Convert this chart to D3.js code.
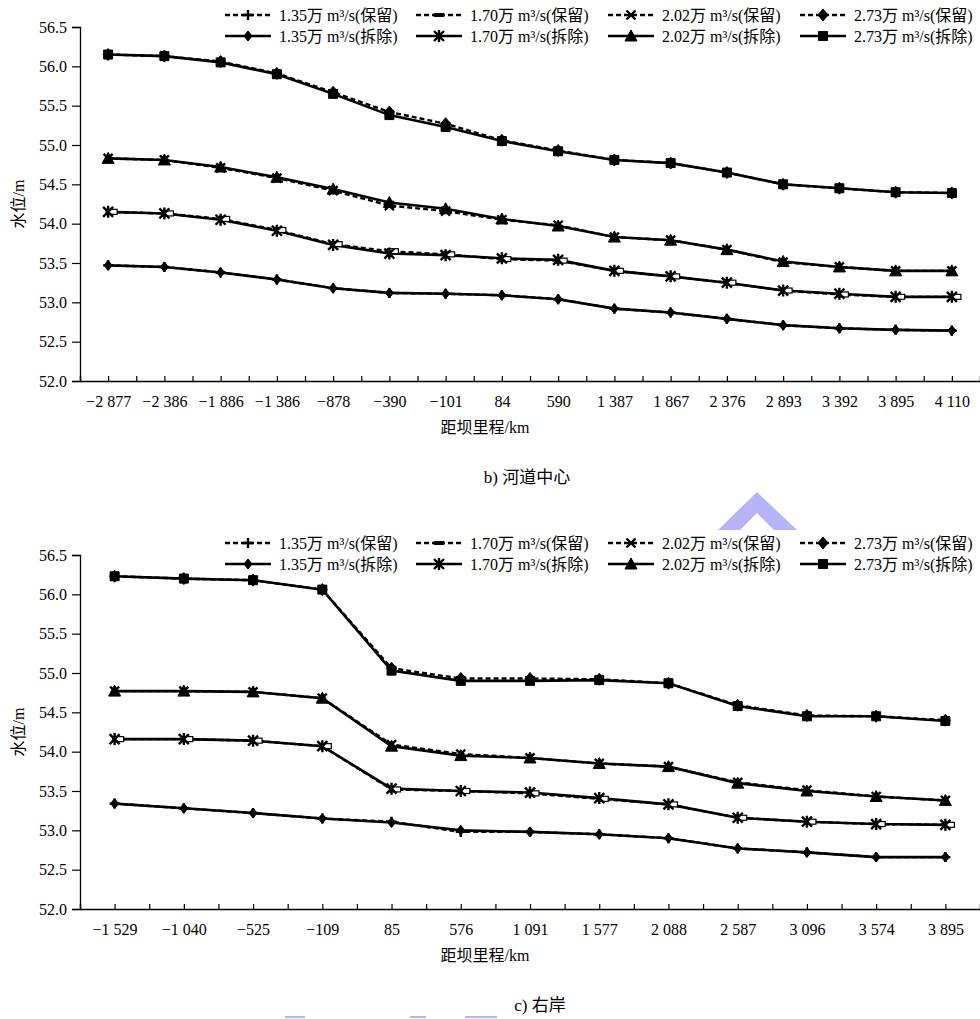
<!DOCTYPE html>
<html>
<head>
<meta charset="utf-8">
<script src="https://cdn.jsdelivr.net/npm/d3@7"></script>
<style>
  body { margin: 0; background: #fff; }
  svg { display: block; }
  text { font-family: "Liberation Serif", "Noto Sans CJK SC", serif; fill: #000; }
</style>
</head>
<body>
<svg id="chart" width="980" height="1019"></svg>
<script>
'use strict';

// b) 河道中心
var catsB = ['\u22122 877', '\u22122 386', '\u22121 886', '\u22121 386', '\u2212878', '\u2212390', '\u2212101', '84',
             '590', '1 387', '1 867', '2 376', '2 893', '3 392', '3 895', '4 110'];
var keep135B = [53.47, 53.45, 53.38, 53.29, 53.18, 53.12, 53.11, 53.09, 53.04, 52.92, 52.87, 52.79, 52.71, 52.67, 52.65, 52.64];
var keep170B = [54.15, 54.13, 54.06, 53.92, 53.74, 53.65, 53.61, 53.55, 53.53, 53.40, 53.33, 53.25, 53.15, 53.10, 53.07, 53.07];
var keep202B = [54.83, 54.81, 54.71, 54.58, 54.42, 54.23, 54.16, 54.05, 53.98, 53.83, 53.79, 53.67, 53.51, 53.45, 53.40, 53.40];
var keep273B = [56.15, 56.13, 56.06, 55.91, 55.67, 55.42, 55.27, 55.06, 54.93, 54.81, 54.77, 54.65, 54.50, 54.45, 54.40, 54.39];
var rem135B  = [53.47, 53.45, 53.38, 53.29, 53.18, 53.12, 53.11, 53.09, 53.04, 52.92, 52.87, 52.79, 52.71, 52.67, 52.65, 52.64];
var rem170B  = [54.15, 54.13, 54.05, 53.91, 53.73, 53.62, 53.60, 53.56, 53.54, 53.40, 53.33, 53.25, 53.15, 53.11, 53.07, 53.07];
var rem202B  = [54.83, 54.81, 54.72, 54.59, 54.44, 54.27, 54.19, 54.06, 53.97, 53.83, 53.79, 53.67, 53.52, 53.45, 53.40, 53.40];
var rem273B  = [56.15, 56.13, 56.05, 55.90, 55.65, 55.38, 55.23, 55.05, 54.92, 54.81, 54.77, 54.65, 54.50, 54.45, 54.40, 54.39];

// c) 右岸
var catsC = ['\u22121 529', '\u22121 040', '\u2212525', '\u2212109', '85', '576', '1 091', '1 577', '2 088', '2 587', '3 096', '3 574', '3 895'];
var keep135C = [53.34, 53.28, 53.22, 53.15, 53.11, 52.98, 52.98, 52.95, 52.90, 52.77, 52.72, 52.66, 52.66];
var keep170C = [54.16, 54.16, 54.14, 54.07, 53.52, 53.50, 53.47, 53.40, 53.33, 53.16, 53.11, 53.08, 53.07];
var keep202C = [54.77, 54.77, 54.76, 54.68, 54.09, 53.97, 53.92, 53.85, 53.81, 53.61, 53.51, 53.43, 53.38];
var keep273C = [56.23, 56.20, 56.18, 56.06, 55.06, 54.93, 54.93, 54.92, 54.87, 54.59, 54.46, 54.45, 54.40];
var rem135C  = [53.34, 53.28, 53.22, 53.15, 53.10, 53.00, 52.98, 52.95, 52.90, 52.77, 52.72, 52.66, 52.66];
var rem170C  = [54.16, 54.16, 54.14, 54.07, 53.53, 53.50, 53.48, 53.41, 53.33, 53.16, 53.11, 53.08, 53.07];
var rem202C  = [54.77, 54.77, 54.76, 54.68, 54.07, 53.95, 53.92, 53.85, 53.81, 53.60, 53.50, 53.43, 53.38];
var rem273C  = [56.23, 56.20, 56.18, 56.06, 55.03, 54.90, 54.90, 54.91, 54.87, 54.58, 54.45, 54.45, 54.39];

var yTicks = [52.0, 52.5, 53.0, 53.5, 54.0, 54.5, 55.0, 55.5, 56.0, 56.5];

var seriesNames = ['1.35万 m\u00b3/s(保留)', '1.70万 m\u00b3/s(保留)', '2.02万 m\u00b3/s(保留)', '2.73万 m\u00b3/s(保留)',
                   '1.35万 m\u00b3/s(拆除)', '1.70万 m\u00b3/s(拆除)', '2.02万 m\u00b3/s(拆除)', '2.73万 m\u00b3/s(拆除)'];
var seriesMarkers = ['plus', 'dash', 'cross', 'diamond', 'smalldiamond', 'asterisk', 'triangle', 'square'];

var svg = d3.select('#chart');

// light blue overlay shapes seen on the page
svg.append('path')
    .attr('d', 'M757,492 L797,530 L774,530 L757,513 L740,530 L718,530 Z')
    .style('fill', '#b4b4f6');
[[285, 20], [410, 16], [465, 32]].forEach(function (b) {
    svg.append('rect').attr('x', b[0]).attr('y', 1016).attr('width', b[1]).attr('height', 2)
        .style('fill', '#b4b4f6');
});

function markerPath (type) {
    switch (type) {
        case 'plus': return 'M-5,0H5M0,-5V5';
        case 'cross': return 'M-4.5,-4.5L4.5,4.5M4.5,-4.5L-4.5,4.5';
        case 'asterisk': return 'M-5,-5L5,5M5,-5L-5,5M0,-6V6';
        case 'diamond': return 'M0,-6L5,0L0,6L-5,0Z';
        case 'smalldiamond': return 'M0,-5L4,0L0,5L-4,0Z';
        case 'triangle': return 'M0,-6L6,5L-6,5Z';
        case 'square': return 'M-4.5,-4.5H4.5V4.5H-4.5Z';
    }
    return '';
}

function drawMarker (g, type, x, y, inLegend) {
    if (type === 'dash') {
        if (inLegend) {
            g.append('rect').attr('x', x - 5).attr('y', y - 2).attr('width', 10).attr('height', 4)
                .style('fill', '#000');
        } else {
            g.append('rect').attr('x', x - 2).attr('y', y - 2.5).attr('width', 11).attr('height', 5)
                .style('fill', '#fff').style('stroke', '#000').style('stroke-width', 1.2);
        }
        return;
    }
    var open = (type === 'plus' || type === 'cross' || type === 'asterisk');
    g.append('path')
        .attr('d', markerPath(type))
        .attr('transform', 'translate(' + x + ',' + y + ')')
        .style('fill', open ? 'none' : '#000')
        .style('stroke', '#000')
        .style('stroke-width', open ? 2.4 : 1);
}

function drawPanel (dy, cats, series, caption, captionX) {
    var g = svg.append('g').attr('transform', 'translate(0,' + dy + ')');
    var n = cats.length;

    var x = d3.scaleLinear().domain([0, n]).range([80, 980]);
    var y = d3.scaleLinear().domain([52, 56.5]).range([381, 27]);

    var xAxis = d3.axisBottom(x)
        .tickValues(d3.range(0, n + 0.25, 0.5))
        .tickSize(-5)
        .tickPadding(15)
        .tickFormat(function (d) {
            var i = d - 0.5;
            return (Number.isInteger(i)) ? cats[i] : '';
        });

    var yAxis = d3.axisLeft(y)
        .tickValues(yTicks)
        .tickSize(8)
        .tickPadding(5)
        .tickFormat(d3.format('.1f'));

    var gx = g.append('g').attr('transform', 'translate(0,381)').call(xAxis);
    var gy = g.append('g').attr('transform', 'translate(80,0)').call(yAxis);
    [gx, gy].forEach(function (ax) {
        ax.select('.domain').style('stroke', '#000').style('stroke-width', 1.3);
        ax.selectAll('.tick line').style('stroke', '#000').style('stroke-width', 1.2);
        ax.selectAll('.tick text').style('font-size', '16px')
            .style('font-family', '"Liberation Serif", serif').style('fill', '#000');
    });

    var line = d3.line()
        .x(function (d, i) { return x(i + 0.5); })
        .y(function (d) { return y(d); });

    // dashed (保留) first, solid (拆除) on top
    series.forEach(function (s, k) {
        if (k < 4) {
            g.append('path').datum(s).attr('d', line)
                .style('fill', 'none').style('stroke', '#000')
                .style('stroke-width', 2.4).style('stroke-dasharray', '5,3');
        }
    });
    series.forEach(function (s, k) {
        if (k >= 4) {
            g.append('path').datum(s).attr('d', line)
                .style('fill', 'none').style('stroke', '#000').style('stroke-width', 2.6);
        }
    });
    series.forEach(function (s, k) {
        s.forEach(function (v, i) {
            drawMarker(g, seriesMarkers[k], x(i + 0.5), y(v), false);
        });
    });

    // legend
    var colX = [225, 416, 608, 800];
    seriesNames.forEach(function (name, k) {
        var cx = colX[k % 4];
        var cy = (k < 4) ? 15 : 36;
        g.append('line')
            .attr('x1', cx).attr('x2', cx + 46).attr('y1', cy).attr('y2', cy)
            .style('stroke', '#000').style('stroke-width', 2.6)
            .style('stroke-dasharray', (k < 4) ? '5,3' : null);
        drawMarker(g, seriesMarkers[k], cx + 23, cy, true);
        g.append('text')
            .attr('x', cx + 54).attr('y', cy + 5.5)
            .style('font-size', '16px')
            .text(name);
    });

    g.append('text')
        .attr('transform', 'translate(24,204) rotate(-90)')
        .attr('text-anchor', 'middle')
        .style('font-size', '16px')
        .text('水位/m');

    g.append('text')
        .attr('x', 485).attr('y', 433)
        .attr('text-anchor', 'middle')
        .style('font-size', '16px')
        .text('距坝里程/km');

    g.append('text')
        .attr('x', captionX).attr('y', 483)
        .attr('text-anchor', 'middle')
        .style('font-size', '17px')
        .text(caption);
}

drawPanel(0, catsB, [keep135B, keep170B, keep202B, keep273B, rem135B, rem170B, rem202B, rem273B], 'b) 河道中心', 527);
drawPanel(528, catsC, [keep135C, keep170C, keep202C, keep273C, rem135C, rem170C, rem202C, rem273C], 'c) 右岸', 540);
</script>
</body>
</html>
